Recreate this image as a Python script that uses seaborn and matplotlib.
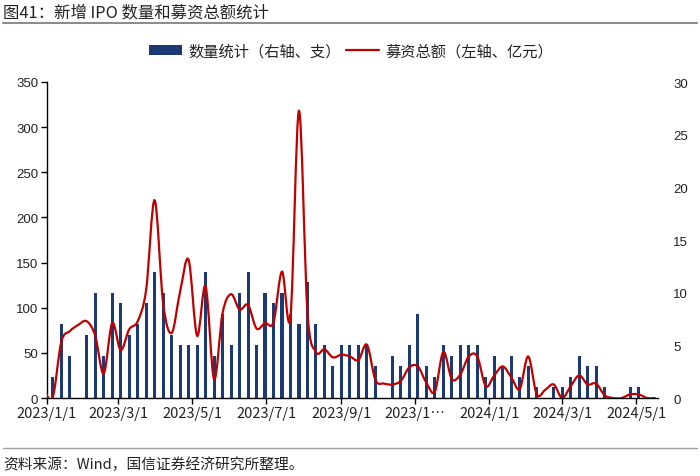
import numpy as np
import pandas as pd
import matplotlib
matplotlib.use("Agg")
import matplotlib.pyplot as plt
import matplotlib.dates as mdates
from matplotlib.path import Path
from matplotlib.patches import PathPatch, Patch
from matplotlib.lines import Line2D
import seaborn as sns

# ---------------- data (weekly, Fridays) ----------------
start_date = "2022-12-30"
ipo_counts = [0, 2, 7, 4, 0, 6, 10, 4, 10, 9, 6, 7, 9, 12, 10, 6, 5, 5, 5, 12,
              4, 8, 5, 10, 12, 5, 10, 9, 10, 8, 7, 11, 7, 5, 3, 5, 5, 5, 5, 3,
              0, 4, 3, 5, 8, 3, 2, 5, 4, 5, 5, 5, 2, 4, 3, 4, 2, 3, 1, 0,
              1, 1, 2, 4, 3, 3, 1, 0, 0, 1, 1, 0, 0]
raise_amount = [8, 1, 62, 74, 81, 85, 69, 27, 83, 53, 76, 85, 120, 219, 105, 72, 118, 153, 69, 124,
                21, 94, 115, 98, 103, 77, 83, 84, 140, 90, 318, 95, 51, 54, 45, 48, 46, 42, 59, 20,
                16, 15, 19, 34, 35, 17, 7, 51, 21, 26, 46, 46, 13, 25, 35, 23, 10, 46, 4, 9,
                15, 0, 13, 25, 15, 16, 3, 0, 0, 4, 4, 0, 0]
tick_dates = ["2023-01-01", "2023-03-01", "2023-05-01", "2023-07-01", "2023-09-01",
              "2023-11-01", "2024-01-01", "2024-03-01", "2024-05-01"]
tick_labels = ["2023/1/1", "2023/3/1", "2023/5/1", "2023/7/1", "2023/9/1",
               "2023/1\u2026", "2024/1/1", "2024/3/1", "2024/5/1"]
left_ticks = [0, 50, 100, 150, 200, 250, 300, 350]
right_ticks = [0, 5, 10, 15, 20, 25, 30]
label_bar = "数量统计（右轴、支）"
label_line = "募资总额（左轴、亿元）"
title = "图41：新增 IPO 数量和募资总额统计"
source = "资料来源：Wind，国信证券经济研究所整理。"

bar_color = "#1B3A73"
line_color = "#C00000"

sns.set_theme(style="white")
plt.rcParams["font.family"] = ["Noto Sans CJK SC", "DejaVu Sans"]

dates = pd.date_range(start_date, periods=len(ipo_counts), freq="7D")
df = pd.DataFrame({"date": dates, "count": ipo_counts, "amount": raise_amount})
df["x"] = mdates.date2num(df["date"])

fig = plt.figure(figsize=(7, 4.77), dpi=100)
ax = fig.add_axes([46.7 / 700, 1 - 399 / 477, (658 - 46.7) / 700, (399 - 83) / 477])
ax2 = ax.twinx()

# bars on right axis
sns.barplot(data=df, x="x", y="count", ax=ax2, native_scale=True,
            color=bar_color, saturation=1, width=0.36, linewidth=0, errorbar=None)

# smoothed line (Excel-like Bezier smoothing) on left axis
xs = df["x"].to_numpy(dtype=float)
ys = df["amount"].to_numpy(dtype=float)
n = len(xs)
verts = [(xs[0], ys[0])]
codes = [Path.MOVETO]
for i in range(n - 1):
    p = i - 1 if i > 0 else i
    q = i + 2 if i + 2 < n else i + 1
    c1 = (xs[i] + (xs[i + 1] - xs[p]) / 6, ys[i] + (ys[i + 1] - ys[p]) / 6)
    c2 = (xs[i + 1] - (xs[q] - xs[i]) / 6, ys[i + 1] - (ys[q] - ys[i]) / 6)
    verts += [c1, c2, (xs[i + 1], ys[i + 1])]
    codes += [Path.CURVE4] * 3
ax.add_patch(PathPatch(Path(verts, codes), facecolor="none", edgecolor=line_color,
                       lw=1.6, transform=ax.transData, clip_on=True, zorder=3))

ax.set_zorder(ax2.get_zorder() + 1)
ax.patch.set_visible(False)

ax.set_xlim(mdates.date2num(pd.Timestamp("2023-01-01")), mdates.date2num(pd.Timestamp("2024-05-19")))
ax.set_ylim(0, 350)
ax2.set_ylim(0, 30)
ax.set_yticks(left_ticks)
ax2.set_yticks(right_ticks)
ax.set_xticks(mdates.date2num(pd.to_datetime(tick_dates)))
ax.set_xticklabels(tick_labels)
ax.set_yticklabels([str(v) for v in left_ticks], family="Liberation Sans")
ax2.set_yticklabels([str(v) for v in right_ticks], family="Liberation Sans")
ax.set_xlabel("")
ax.set_ylabel("")
ax2.set_xlabel("")
ax2.set_ylabel("")

for s in ["top", "right"]:
    ax.spines[s].set_visible(False)
for s in ["left", "bottom"]:
    ax.spines[s].set_color("black")
    ax.spines[s].set_linewidth(1.0)
for s in ax2.spines.values():
    s.set_visible(False)

ax.tick_params(axis="y", left=True, direction="out", length=4, width=1, color="black",
               labelsize=9.5, pad=2, labelcolor="#222222")
ax.tick_params(axis="x", bottom=True, direction="out", length=4, width=1, color="black",
               labelsize=10.5, pad=2, labelcolor="#222222")
ax2.tick_params(axis="y", right=True, length=0, labelsize=9.5, pad=11, labelcolor="#222222")

# legend
handles = [Patch(facecolor=bar_color, edgecolor="none"),
           Line2D([], [], color=line_color, lw=1.6)]
fig.legend(handles, [label_bar, label_line], loc="center",
           bbox_to_anchor=(351 / 700, 1 - 52 / 477), ncol=2, frameon=False,
           fontsize=11, handlelength=2.2, handleheight=0.6, handletextpad=0.4,
           columnspacing=0.3, labelcolor="#222222")

# title, separators, source
fig.text(3 / 700, 1 - 13 / 477, title, fontsize=11.8, va="center", ha="left",
         color="#222222", fontweight="medium")
fig.add_artist(Line2D([0.004, 0.996], [1 - 24 / 477] * 2, color="#8C8C8C", lw=1.5,
                      transform=fig.transFigure))
fig.add_artist(Line2D([0.004, 0.996], [1 - 449 / 477] * 2, color="#A0A0A0", lw=1.0,
                      transform=fig.transFigure))
fig.text(3 / 700, 1 - 465 / 477, source, fontsize=10.6, va="center", ha="left", color="#222222")

fig.savefig("out.png", dpi=100)
